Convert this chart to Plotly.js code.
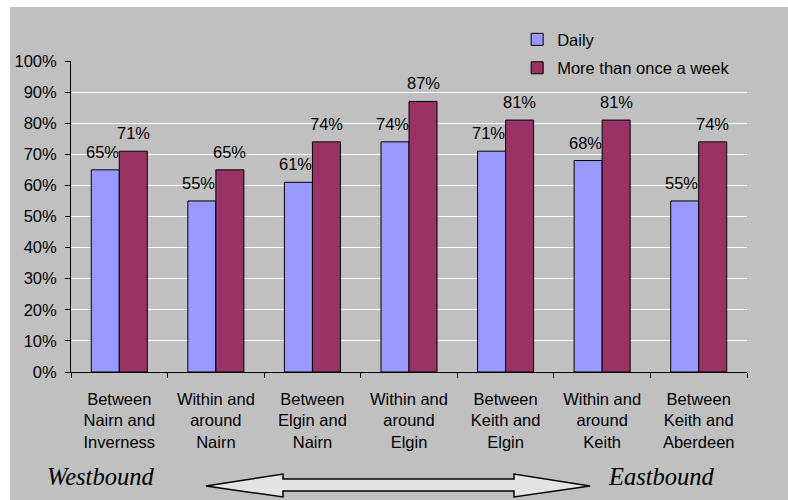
<!DOCTYPE html>
<html>
<head>
<meta charset="utf-8">
<script src="https://cdn.plot.ly/plotly-3.0.1.min.js"></script>
<style>
  html, body { margin: 0; padding: 0; background: #ffffff; }
  #chart { position: absolute; left: 10px; top: 7px; width: 778px; height: 493px; }
</style>
</head>
<body>
<div id="chart"></div>
<script>
const categories = [
  'Between<br>Nairn and<br>Inverness',
  'Within and<br>around<br>Nairn',
  'Between<br>Elgin and<br>Nairn',
  'Within and<br>around<br>Elgin',
  'Between<br>Keith and<br>Elgin',
  'Within and<br>around<br>Keith',
  'Between<br>Keith and<br>Aberdeen'
];
const seriesNames = ['Daily', 'More than once a week'];
const daily = [0.65, 0.55, 0.61, 0.74, 0.71, 0.68, 0.55];
const moreThanOnce = [0.71, 0.65, 0.74, 0.87, 0.81, 0.81, 0.74];
const yTickVals = [0, 0.1, 0.2, 0.3, 0.4, 0.5, 0.6, 0.7, 0.8, 0.9, 1.0];
const directionLabels = ['Westbound', 'Eastbound'];

const FONT = 'Liberation Sans, Arial, sans-serif';
const FS = 16.5;
const BG = '#c0c0c0';

const traces = [
  {
    type: 'bar', name: seriesNames[0], x: categories, y: daily,
    marker: { color: '#9999ff', line: { color: '#000000', width: 1 } },
    hoverinfo: 'skip', legendgroup: 'a'
  },
  {
    type: 'bar', name: seriesNames[1], x: categories, y: moreThanOnce,
    marker: { color: '#993366', line: { color: '#000000', width: 1 } },
    hoverinfo: 'skip', legendgroup: 'b'
  }
];

const annotations = [];
const pct = v => Math.round(v * 100) + '%';
categories.forEach((c, i) => {
  annotations.push({
    x: c, y: daily[i], xref: 'x', yref: 'y', text: pct(daily[i]),
    showarrow: false, xanchor: 'center', yanchor: 'bottom',
    xshift: -17, yshift: 7, font: { family: FONT, size: FS, color: '#000' }
  });
  annotations.push({
    x: c, y: moreThanOnce[i], xref: 'x', yref: 'y', text: pct(moreThanOnce[i]),
    showarrow: false, xanchor: 'center', yanchor: 'bottom',
    xshift: 14, yshift: 7, font: { family: FONT, size: FS, color: '#000' }
  });
});
annotations.push({
  x: 0.0436, y: -0.336, xref: 'paper', yref: 'paper', text: directionLabels[0],
  showarrow: false, xanchor: 'center', yanchor: 'middle',
  font: { family: 'Liberation Serif, Times New Roman, serif', size: 24.5, color: '#000', style: 'italic' }
});
annotations.push({
  x: 0.8735, y: -0.336, xref: 'paper', yref: 'paper', text: directionLabels[1],
  showarrow: false, xanchor: 'center', yanchor: 'middle',
  font: { family: 'Liberation Serif, Times New Roman, serif', size: 24.5, color: '#000', style: 'italic' }
});

const arrowPath = 'M 0.1997 -0.3666 L 0.3136 -0.328 L 0.3136 -0.344 L 0.6553 -0.344 L 0.6553 -0.328 ' +
  'L 0.7678 -0.3666 L 0.6553 -0.4019 L 0.6553 -0.3826 L 0.3136 -0.3826 L 0.3136 -0.4019 Z';

const layout = {
  width: 778, height: 493,
  margin: { l: 61, r: 41, t: 54, b: 128, pad: 0 },
  paper_bgcolor: BG, plot_bgcolor: BG,
  font: { family: FONT, size: FS, color: '#000' },
  barmode: 'group', bargap: 0.42, bargroupgap: 0,
  showlegend: true,
  legend: {
    x: 0.66, y: 1.125, xanchor: 'left', yanchor: 'top',
    bgcolor: BG, borderwidth: 0, font: { family: FONT, size: FS, color: '#000' },
    traceorder: 'grouped', tracegroupgap: 4
  },
  xaxis: {
    type: 'category', showline: true, linecolor: '#000', linewidth: 1,
    ticks: 'outside', ticklen: 5, tickcolor: '#000', tickson: 'boundaries',
    showgrid: false, tickfont: { family: FONT, size: FS, color: '#000' },
    ticklabelstandoff: 12, fixedrange: true
  },
  yaxis: {
    range: [0, 1], tickvals: yTickVals, tickformat: '.0%',
    showline: true, linecolor: '#000', linewidth: 1,
    ticks: 'outside', ticklen: 5, tickcolor: '#000',
    showgrid: true, gridcolor: '#ffffff', gridwidth: 1, zeroline: false,
    tickfont: { family: FONT, size: FS, color: '#000' },
    ticklabelstandoff: 5, fixedrange: true
  },
  annotations: annotations,
  shapes: [{
    type: 'path', xref: 'paper', yref: 'paper', path: arrowPath,
    fillcolor: '#e4e4e4', line: { color: '#000', width: 1.5 }, layer: 'above'
  }]
};

Plotly.newPlot('chart', traces, layout, { staticPlot: true, displayModeBar: false });
</script>
</body>
</html>
